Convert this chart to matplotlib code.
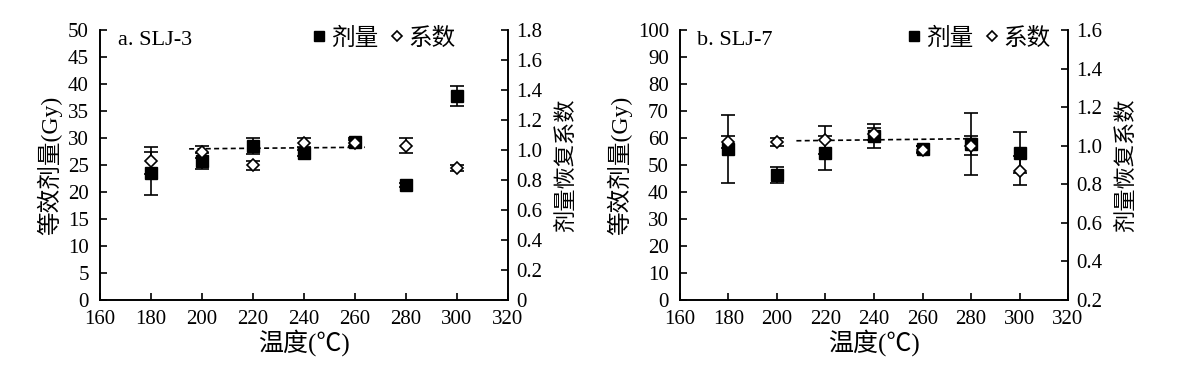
import matplotlib.pyplot as plt
from matplotlib.lines import Line2D

plt.rcParams['font.family'] = ['Liberation Serif', 'Noto Sans CJK SC']
plt.rcParams['axes.unicode_minus'] = False

temps = [180, 200, 220, 240, 260, 280, 300]

# a. SLJ-3
dose_a = [23.5, 25.7, 28.6, 27.2, 29.2, 21.3, 37.8]
dose_err_a = [4.0, 1.5, 1.5, 0.5, 0.8, 0.3, 1.8]
coef_a = [0.93, 0.99, 0.90, 1.05, 1.05, 1.03, 0.88]
coef_err_a = [0.09, 0.04, 0.03, 0.03, 0.02, 0.05, 0.02]
fit_x_a = [195, 264]
fit_y_a = [28.0, 28.3]

# b. SLJ-7
dose_b = [56.0, 46.3, 54.6, 60.7, 55.9, 57.7, 54.6]
dose_err_b = [12.5, 2.8, 6.3, 4.5, 1.0, 11.5, 7.7]
coef_b = [1.02, 1.02, 1.03, 1.06, 0.98, 1.00, 0.87]
coef_err_b = [0.03, 0.02, 0.075, 0.03, 0.02, 0.05, 0.075]
fit_x_b = [208, 283]
fit_y_b = [59.0, 59.8]

panels = [
    dict(rect=[0.0845, 0.202, 0.3445, 0.718], title='a. SLJ-3',
         dose=dose_a, dose_err=dose_err_a, coef=coef_a, coef_err=coef_err_a,
         fit_x=fit_x_a, fit_y=fit_y_a, legend_x=0.897,
         ylim=(0, 50), yticks=range(0, 51, 5),
         y2lim=(0, 1.8), y2ticks=[0, 0.2, 0.4, 0.6, 0.8, 1.0, 1.2, 1.4, 1.6, 1.8]),
    dict(rect=[0.5748, 0.202, 0.328, 0.718], title='b. SLJ-7',
         dose=dose_b, dose_err=dose_err_b, coef=coef_b, coef_err=coef_err_b,
         fit_x=fit_x_b, fit_y=fit_y_b, legend_x=0.98,
         ylim=(0, 100), yticks=range(0, 101, 10),
         y2lim=(0.2, 1.6), y2ticks=[0.2, 0.4, 0.6, 0.8, 1.0, 1.2, 1.4, 1.6]),
]

fig = plt.figure(figsize=(11.83, 3.76), dpi=100)

for p in panels:
    ax = fig.add_axes(p['rect'])
    ax2 = ax.twinx()

    ax.errorbar(temps, p['dose'], yerr=p['dose_err'], fmt='s', color='black',
                markersize=9, elinewidth=1.2, capsize=5, capthick=1.2, zorder=3)
    ax.plot(p['fit_x'], p['fit_y'], color='black', linestyle=(0, (3, 2)),
            linewidth=1.2, zorder=2)
    ax2.errorbar(temps, p['coef'], yerr=p['coef_err'], fmt='D', mfc='white',
                 mec='black', color='black', markersize=6, mew=1.2,
                 elinewidth=1.2, capsize=5, capthick=1.2, zorder=4)

    ax.set_xlim(160, 320)
    ax.set_xticks(range(160, 321, 20))
    ax.set_ylim(*p['ylim'])
    ax.set_yticks(list(p['yticks']))
    ax2.set_ylim(*p['y2lim'])
    ax2.set_yticks(p['y2ticks'])
    ax2.set_yticklabels(['0' if v == 0 else f'{v:.1f}' for v in p['y2ticks']])

    for a in (ax, ax2):
        a.spines['top'].set_visible(False)
        for s in a.spines.values():
            s.set_linewidth(1.2)
        a.tick_params(direction='in', length=5, width=1.2, labelsize=15)
    ax.tick_params(axis='x', pad=7)
    ax.tick_params(axis='y', pad=8)
    ax2.tick_params(axis='y', pad=6)

    ax.set_xlabel('温度(℃)', fontsize=18, labelpad=0)
    ax.set_ylabel('等效剂量(Gy)', fontsize=17, labelpad=4)
    ax2.set_ylabel('剂量恢复系数', fontsize=16, labelpad=10)

    ax.text(0.045, 0.995, p['title'], transform=ax.transAxes, fontsize=16,
            va='top', ha='left')

    handles = [
        Line2D([0], [0], marker='s', color='black', linestyle='none', markersize=7),
        Line2D([0], [0], marker='D', mfc='white', mec='black', linestyle='none',
               markersize=5, mew=1.2),
    ]
    ax2.legend(handles, ['剂量', '系数'], loc='upper right', ncol=2, frameon=False,
               fontsize=17, handlelength=0.6, handletextpad=0.2, columnspacing=0.5,
               borderaxespad=0.0, bbox_to_anchor=(p['legend_x'], 1.045))

fig.savefig('out.png', dpi=100)
